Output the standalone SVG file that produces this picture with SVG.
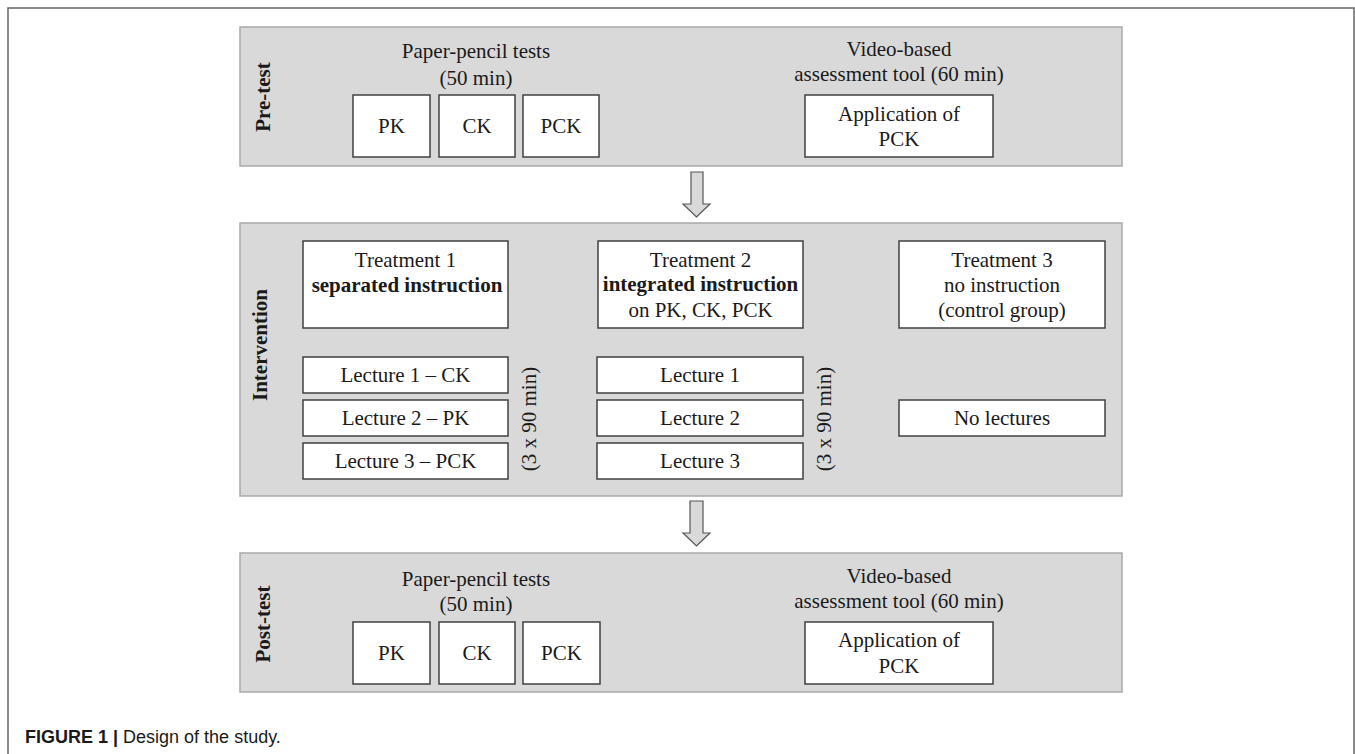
<svg xmlns="http://www.w3.org/2000/svg" width="1355" height="754" viewBox="0 0 1355 754">
<style>
.panel{fill:#d9d9d9;stroke:#a9a9a9;stroke-width:1.5}
.box{fill:#ffffff;stroke:#404040;stroke-width:1.5}
.t{font-family:"Liberation Serif","Times New Roman",serif;font-size:21px;fill:#1a1a1a;text-anchor:middle}
.b{font-weight:bold}
.arrow{fill:#d9d9d9;stroke:#555555;stroke-width:1.2;stroke-linejoin:miter}
.cap{font-family:"Liberation Sans",Arial,sans-serif;font-size:18px;fill:#1a1a1a}
</style>
<rect width="1355" height="754" fill="#ffffff"/>
<path d="M8,760 V8 H1354 V760" fill="none" stroke="#666666" stroke-width="1.5"/>

<g id="pretest">
<rect class="panel" x="240" y="27" width="882" height="139"/>
<text class="t b" transform="translate(270,97) rotate(-90)">Pre-test</text>
<text class="t" x="476" y="58">Paper-pencil tests</text>
<text class="t" x="476" y="85">(50 min)</text>
</g>
<g id="pre-pk"><rect class="box" x="353" y="95" width="77" height="62"/><text class="t" x="391.5" y="133">PK</text></g>
<g id="pre-ck"><rect class="box" x="439" y="95" width="76" height="62"/><text class="t" x="477" y="133">CK</text></g>
<g id="pre-pck"><rect class="box" x="523" y="95" width="76" height="62"/><text class="t" x="561" y="133">PCK</text></g>
<g id="pre-video">
<text class="t" x="899" y="56">Video-based</text>
<text class="t" x="899" y="81">assessment tool (60 min)</text>
<rect class="box" x="805" y="95" width="188" height="62"/>
<text class="t" x="899" y="121">Application of</text>
<text class="t" x="899" y="146">PCK</text>
</g>

<g id="intervention">
<rect class="panel" x="240" y="223" width="882" height="273"/>
<text class="t b" transform="translate(267,345) rotate(-90)">Intervention</text>
<text class="t" transform="translate(536,419) rotate(-90)">(3 x 90 min)</text>
<text class="t" transform="translate(831,419) rotate(-90)">(3 x 90 min)</text>
</g>
<g id="treatment1">
<rect class="box" x="303" y="241" width="205" height="87"/>
<text class="t" x="405.5" y="267">Treatment 1</text>
<text class="t b" x="407" y="292">separated instruction</text>
</g>
<g id="treatment2">
<rect class="box" x="598" y="241" width="205" height="87"/>
<text class="t" x="700.5" y="267">Treatment 2</text>
<text class="t b" x="700.5" y="291">integrated instruction</text>
<text class="t" x="700.5" y="317">on PK, CK, PCK</text>
</g>
<g id="treatment3">
<rect class="box" x="899" y="241" width="206" height="87"/>
<text class="t" x="1002" y="267">Treatment 3</text>
<text class="t" x="1002" y="292">no instruction</text>
<text class="t" x="1002" y="317">(control group)</text>
</g>
<g id="lec1-ck"><rect class="box" x="303" y="357" width="205" height="36"/><text class="t" x="405.5" y="382">Lecture 1 – CK</text></g>
<g id="lec2-pk"><rect class="box" x="303" y="400" width="205" height="36"/><text class="t" x="405.5" y="425">Lecture 2 – PK</text></g>
<g id="lec3-pck"><rect class="box" x="303" y="443" width="205" height="36"/><text class="t" x="405.5" y="468">Lecture 3 – PCK</text></g>
<g id="lec1"><rect class="box" x="597" y="357" width="206" height="36"/><text class="t" x="700" y="382">Lecture 1</text></g>
<g id="lec2"><rect class="box" x="597" y="400" width="206" height="36"/><text class="t" x="700" y="425">Lecture 2</text></g>
<g id="lec3"><rect class="box" x="597" y="443" width="206" height="36"/><text class="t" x="700" y="468">Lecture 3</text></g>
<g id="nolectures"><rect class="box" x="899" y="400" width="206" height="36"/><text class="t" x="1002" y="425">No lectures</text></g>

<g id="posttest">
<rect class="panel" x="240" y="553" width="882" height="139"/>
<text class="t b" transform="translate(270,624) rotate(-90)">Post-test</text>
<text class="t" x="476" y="586">Paper-pencil tests</text>
<text class="t" x="476" y="611">(50 min)</text>
</g>
<g id="post-pk"><rect class="box" x="353" y="622" width="77" height="62"/><text class="t" x="391.5" y="660">PK</text></g>
<g id="post-ck"><rect class="box" x="439" y="622" width="76" height="62"/><text class="t" x="477" y="660">CK</text></g>
<g id="post-pck"><rect class="box" x="523" y="622" width="77" height="62"/><text class="t" x="561.5" y="660">PCK</text></g>
<g id="post-video">
<text class="t" x="899" y="583">Video-based</text>
<text class="t" x="899" y="608">assessment tool (60 min)</text>
<rect class="box" x="805" y="622" width="188" height="62"/>
<text class="t" x="899" y="647">Application of</text>
<text class="t" x="899" y="673">PCK</text>
</g>

<g id="connectors">
<path class="arrow" d="M691,172 H703 V204 H710 L696.5,217 L683,204 H691 Z"/>
<path class="arrow" d="M690,501 H703 V533 H710 L696.5,546 L683,533 H690 Z"/>
</g>

<text class="cap" x="25" y="743"><tspan font-weight="bold">FIGURE 1 | </tspan>Design of the study.</text>
</svg>
